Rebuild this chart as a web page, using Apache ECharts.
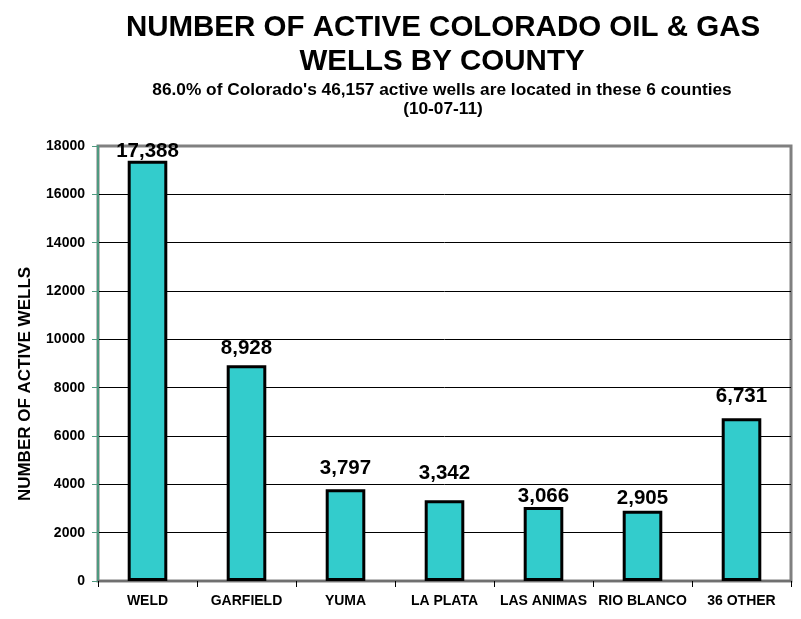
<!DOCTYPE html>
<html><head><meta charset="utf-8">
<script src="https://cdn.jsdelivr.net/npm/echarts@6/dist/echarts.min.js"></script>
<style>html,body{margin:0;padding:0;background:#fff}#c{width:801px;height:619px}</style>
</head><body><div id="c"></div>
<script>
const categories = ['WELD','GARFIELD','YUMA','LA PLATA','LAS ANIMAS','RIO BLANCO','36 OTHER'];
const wells = [17388, 8928, 3797, 3342, 3066, 2905, 6731];
const yTicks = [0,2000,4000,6000,8000,10000,12000,14000,16000,18000];
const titleLines = ['NUMBER OF ACTIVE COLORADO OIL & GAS', 'WELLS BY COUNTY'];
const subtitleLines = ["86.0% of Colorado's 46,157 active wells are located in these 6 counties", '(10-07-11)'];
const yAxisTitle = 'NUMBER OF ACTIVE WELLS';
// label spacing above each bar (style only, as in the original hand-placed labels)
const labelGap = [-1, 6, 10, 16, 0, 2, 11];

const FONT = 'Liberation Sans, Arial, sans-serif';
function txt(text, x, y, size, rot) {
  return {type: 'text', x: x, y: y, rotation: rot || 0, silent: true,
    style: {text: text, fontFamily: FONT, fontWeight: 'bold', fontSize: size, fill: '#000',
      textAlign: 'center', textVerticalAlign: 'middle'}};
}
const chart = echarts.init(document.getElementById('c'));
chart.setOption({
  animation: false,
  backgroundColor: '#fff',
  graphic: [
    txt(titleLines[0], 443, 28, 29.5),
    txt(titleLines[1], 442, 62, 29.5),
    txt(subtitleLines[0], 442, 90, 17.3),
    txt(subtitleLines[1], 443, 109, 17.3),
    txt(yAxisTitle, 25, 384, 17, Math.PI / 2)
  ],
  grid: {left: 98, right: 10, top: 146, bottom: 38, show: true, borderColor: '#808080', borderWidth: 3},
  xAxis: {
    type: 'category', data: categories,
    axisLine: {lineStyle: {color: '#707070', width: 2}},
    axisTick: {show: true, length: 6, lineStyle: {color: '#000'}},
    axisLabel: {fontFamily: FONT, fontWeight: 'bold', fontSize: 14, color: '#000', margin: 13, interval: 0}
  },
  yAxis: {
    type: 'value', min: 0, max: 18000, interval: 2000,
    axisLine: {show: true, lineStyle: {color: '#4f9a80', width: 2}},
    axisTick: {show: true, length: 6, lineStyle: {color: '#4f9a80'}},
    axisLabel: {fontFamily: FONT, fontWeight: 'bold', fontSize: 14, color: '#000', margin: 13,
      formatter: v => yTicks.includes(v) ? String(v) : ''},
    splitLine: {lineStyle: {color: yTicks.map((t, i) => i === yTicks.length - 1 ? 'rgba(0,0,0,0)' : '#000'), width: 1}}
  },
  series: [{
    type: 'bar', barWidth: '40%',
    data: wells.map((v, i) => ({value: v, label: {distance: labelGap[i]}})),
    itemStyle: {color: '#33CCCC', borderColor: '#000', borderWidth: 3},
    label: {show: true, position: 'top', fontFamily: FONT, fontWeight: 'bold', fontSize: 20.5, color: '#000',
      formatter: p => p.value.toLocaleString('en-US')}
  }]
});
</script></body></html>
